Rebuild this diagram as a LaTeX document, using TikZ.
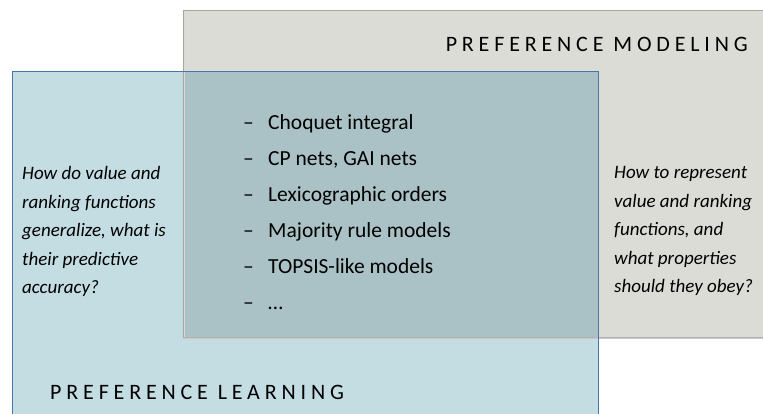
\documentclass[tikz,border=0pt]{standalone}
\usepackage{fontspec}
\setmainfont{Carlito}
\newfontfamily\spacedfont[LetterSpace=22]{Carlito}
\definecolor{greyfill}{RGB}{220,220,215}
\definecolor{greyline}{RGB}{168,166,152}
\definecolor{bluefill}{RGB}{196,221,226}
\definecolor{blueline}{RGB}{75,115,165}
\definecolor{bothfill}{RGB}{170,194,198}

\begin{document}
\begin{tikzpicture}[x=1pt,y=-1pt,
  heading/.style={font=\spacedfont\fontsize{22}{26}\selectfont,inner sep=0pt},
  question/.style={font=\itshape\fontsize{19}{28.5}\selectfont,align=left,inner sep=0pt},
  item/.style={font=\fontsize{21.5}{26}\selectfont,anchor=base west,inner sep=0pt}]
\clip (0,0) rectangle (763,414);
\def\gl{183}
\def\gt{10.5}
\def\gb{337}
\def\bl{12}
\def\bt{71}
\def\br{598}

% the two fields
\fill[color=bluefill] (\bl,\bt) rectangle (\br,420);
\fill[color=greyfill] (\gl,\gt) rectangle (770,\gb);
\fill[color=bothfill] (\gl,\bt) rectangle (\br,\gb);
\draw[color=black!22,line width=2pt] (\gl,\gb+1.2) -- (770,\gb+1.2);
\draw[color=black!15,line width=1.5pt] (\gl+1.5,\gt+1) -- (\gl+1.5,\gb);
\draw[color=greyline,line width=0.8pt] (\gl,\gb) -- (\gl,\gt) -- (770,\gt);
\draw[color=black!30,line width=0.8pt] (\gl,\gb) -- (770,\gb);
\draw[color=blueline,line width=0.7pt] (\bl,420) -- (\bl,\bt) -- (\br,\bt) -- (\br,420);

\node[heading,anchor=base east] (modeling) at (748,51.7) {PREFERENCE MODELING};
\node[heading,anchor=base west] (learning) at (50,399) {PREFERENCE LEARNING};

\node[question,anchor=north west] (learnq) at (22,166.5)
  {How do value and\\ranking functions\\generalize, what is\\their predictive\\accuracy?};
\node[question,anchor=north west] (modelq) at (614,166.5)
  {How to represent\\value and ranking\\functions, and\\what properties\\should they obey?};

% list of models
\foreach \txt [count=\i] in {Choquet integral,{CP nets, GAI nets},Lexicographic orders,
    Majority rule models,TOPSIS-like models,{\ldots}}
{
  \node[item] (dash\i) at (243,{129.5+36*(\i-1)}) {--};
  \node[item] (model\i) at (268,{129.5+36*(\i-1)}) {\txt};
}
\end{tikzpicture}
\end{document}
